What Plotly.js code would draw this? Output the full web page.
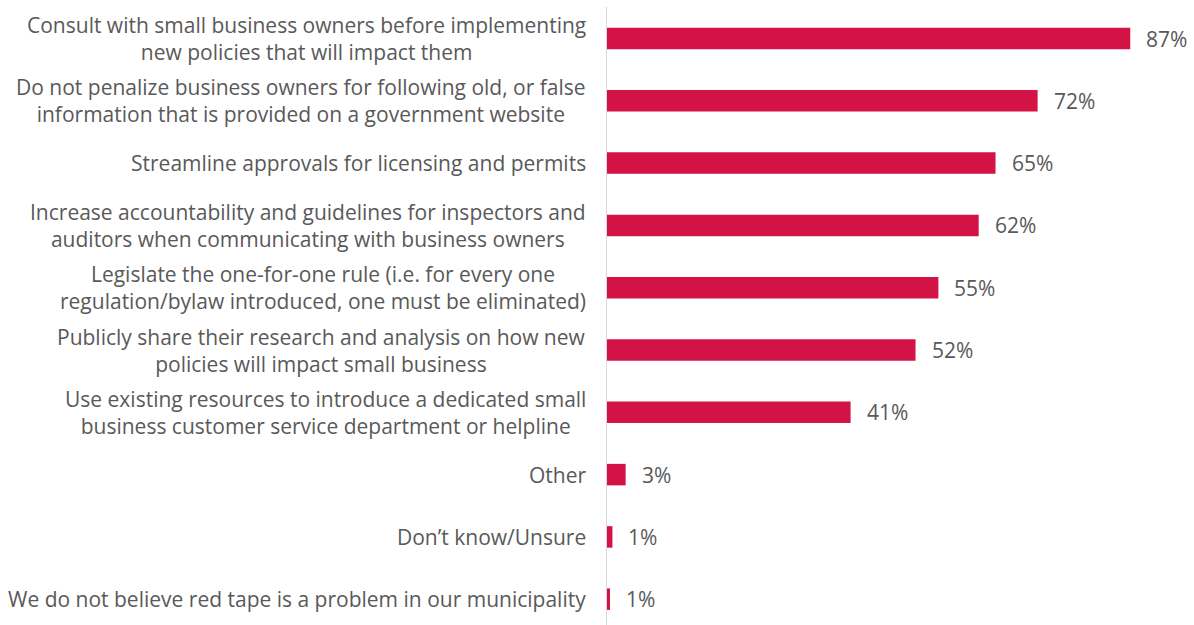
<!DOCTYPE html>
<html>
<head>
<meta charset="utf-8">
<script src="https://cdn.plot.ly/plotly-3.0.1.min.js"></script>
<style>html,body{margin:0;padding:0;background:#fff;}#chart{width:1194px;height:625px;}</style>
</head>
<body>
<div id="chart"></div>
<script>
const categories = [
  "Consult with small business owners before implementing<br>new policies that will impact them",
  "Do not penalize business owners for following old, or false<br>information that is provided on a government website",
  "Streamline approvals for licensing and permits",
  "Increase accountability and guidelines for inspectors and<br>auditors when communicating with business owners",
  "Legislate the one-for-one rule (i.e. for every one<br>regulation/bylaw introduced, one must be eliminated)",
  "Publicly share their research and analysis on how new<br>policies will impact small business",
  "Use existing resources to introduce a dedicated small<br>business customer service department or helpline",
  "Other",
  "Don’t know/Unsure",
  "We do not believe red tape is a problem in our municipality"
];
const values = [87, 71.6, 64.6, 61.8, 55.1, 51.3, 40.5, 3.1, 0.9, 0.5];
const valueLabels = ["87%", "72%", "65%", "62%", "55%", "52%", "41%", "3%", "1%", "1%"];

const FONT = "'Open Sans', sans-serif";
const GRAY = "#595959";
const idx = categories.map((_, i) => i);

const trace = {
  type: "bar",
  orientation: "h",
  x: values,
  y: idx,
  width: 0.345,
  marker: {color: "#D31245"},
  hoverinfo: "skip"
};

const annotations = [];
categories.forEach((c, i) => {
  annotations.push({
    xref: "paper", yref: "y", x: -0.0324, y: i,
    xanchor: "right", yanchor: "middle", align: "center",
    text: c, showarrow: false,
    font: {family: FONT, size: 21, color: GRAY}
  });
  annotations.push({
    xref: "x", yref: "y", x: values[i], y: i,
    xanchor: "left", yanchor: "middle", xshift: 14,
    text: valueLabels[i], showarrow: false,
    font: {family: FONT, size: 21, color: GRAY}
  });
});

const layout = {
  width: 1194, height: 625,
  margin: {l: 607, r: 0, t: 7, b: 0, pad: 0},
  paper_bgcolor: "#fff", plot_bgcolor: "#fff",
  showlegend: false,
  xaxis: {range: [0, 97.6], showgrid: false, zeroline: false, showticklabels: false, showline: false, fixedrange: true},
  yaxis: {range: [9.414, -0.506], showgrid: false, zeroline: false, showticklabels: false, ticks: "",
          showline: true, linecolor: "#D9D9D9", linewidth: 1.5, fixedrange: true},
  annotations: annotations
};

Plotly.newPlot("chart", [trace], layout, {displayModeBar: false, staticPlot: true});
</script>
</body>
</html>
